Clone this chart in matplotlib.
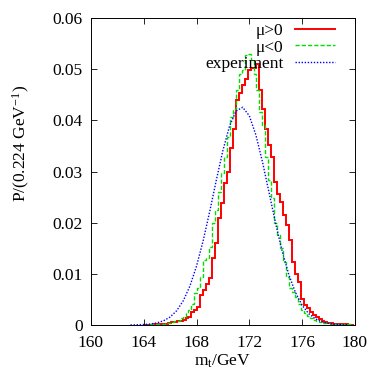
import matplotlib
matplotlib.use("Agg")
import matplotlib.pyplot as plt
import numpy as np

# bin edges: 0.224 GeV wide bins
bin_start = 164.032
bin_width = 0.224

mu_pos = [0, 0, 0, 0.0001, 0.0001, 0.0001, 0.0002, 0.0002, 0.0003, 0.0005,
          0.0006, 0.0007, 0.0008, 0.0010, 0.0013, 0.0016, 0.0026, 0.0029, 0.0036, 0.0059,
          0.0068, 0.0080, 0.0091, 0.0130, 0.0160, 0.0209, 0.0238, 0.0277, 0.0300, 0.0345,
          0.0384, 0.0440, 0.0453, 0.0470, 0.0480, 0.0498, 0.0502, 0.0503, 0.0510, 0.0460,
          0.0423, 0.0384, 0.0352, 0.0329, 0.0280, 0.0257, 0.0240, 0.0215, 0.0195, 0.0166,
          0.0124, 0.0100, 0.0085, 0.0050, 0.0040, 0.0033, 0.0025, 0.0020, 0.0015, 0.0011,
          0.0008, 0.0006, 0.0004, 0.0003, 0.0002, 0.0002, 0.0001, 0.0001, 0.0001, 0, 0]

mu_neg = [0, 0, 0.0001, 0.0001, 0.0001, 0.0002, 0.0002, 0.0003, 0.0004, 0.0006,
          0.0007, 0.0008, 0.0013, 0.0015, 0.0023, 0.0029, 0.0042, 0.0062, 0.0072, 0.0094,
          0.0127, 0.0130, 0.0153, 0.0199, 0.0225, 0.0260, 0.0297, 0.0329, 0.0368, 0.0407,
          0.0423, 0.0460, 0.0490, 0.0498, 0.0527, 0.0530, 0.0518, 0.0490, 0.0460, 0.0416,
          0.0390, 0.0329, 0.0283, 0.0248, 0.0199, 0.0176, 0.0150, 0.0124, 0.0094, 0.0072,
          0.0065, 0.0055, 0.0042, 0.0030, 0.0023, 0.0018, 0.0013, 0.0010, 0.0008, 0.0006,
          0.0004, 0.0003, 0.0003, 0.0002, 0.0002, 0.0001, 0.0001, 0.0002, 0.0001, 0.0001, 0]

# experimental curve, read every 0.5 GeV
exp_x = [163.0, 163.5, 164.0, 164.5, 165.0, 165.5, 166.0, 166.5, 167.0, 167.5,
         168.0, 168.5, 169.0, 169.5, 170.0, 170.5, 171.0, 171.5, 172.0, 172.5,
         173.0, 173.5, 174.0, 174.5, 175.0, 175.5, 176.0, 176.5, 177.0, 177.5,
         178.0, 178.5, 179.0, 179.5]
exp_y = [0.00001, 0.00004, 0.00009, 0.00019, 0.00041, 0.00082, 0.00156, 0.0028, 0.00475, 0.0076,
         0.01149, 0.01642, 0.02217, 0.02829, 0.03411, 0.03886, 0.04183, 0.04255, 0.0409, 0.03714,
         0.03187, 0.02584, 0.0198, 0.01433, 0.0098, 0.00634, 0.00387, 0.00223, 0.00122, 0.00063,
         0.00031, 0.00014, 0.00006, 0.00003]

labels = ["μ>0", "μ<0", "experiment"]

plt.rcParams['font.family'] = ['Liberation Serif', 'DejaVu Serif']
plt.rcParams['mathtext.fontset'] = 'custom'
plt.rcParams['mathtext.rm'] = 'Liberation Serif'
plt.rcParams['mathtext.it'] = 'Liberation Serif:italic'
plt.rcParams['font.size'] = 12.5

edges = bin_start + bin_width * np.arange(len(mu_pos) + 1)

fig = plt.figure(figsize=(3.82, 3.73), dpi=100)
ax = fig.add_axes([0.238, 0.1287, 0.691, 0.823])

ax.stairs(mu_pos, edges, color='red', lw=1.4, label=labels[0])
ax.stairs(mu_neg, edges, color='#00dd00', lw=1.0, ls=(0, (3, 1.5)), label=labels[1])
ax.plot(exp_x, exp_y, color='blue', lw=1.0, ls=(0, (1, 1.2)), label=labels[2])

ax.set_xlim(160, 180)
ax.set_ylim(0, 0.06)
ax.set_xticks(np.arange(160, 181, 4))
ax.set_yticks(np.arange(0, 0.061, 0.01))
ax.set_yticklabels(['0', '0.01', '0.02', '0.03', '0.04', '0.05', '0.06'])
ax.tick_params(direction='in', top=True, right=True, length=4, width=0.6)
ax.tick_params(axis='x', pad=7)
ax.tick_params(axis='y', pad=6)
for s in ax.spines.values():
    s.set_linewidth(0.7)

ax.set_xlabel(r'm$_\mathrm{t}$/GeV')
ax.xaxis.set_label_coords(0.5, -0.09)
ax.set_ylabel(r'P/(0.224 GeV$^{\mathrm{-1}}$)')
ax.yaxis.set_label_coords(-0.225, 0.59)

ax.legend(loc='upper right', bbox_to_anchor=(0.926, 0.983), frameon=False, markerfirst=False,
          handlelength=2.3, labelspacing=0.0, handletextpad=0.7, borderpad=0,
          borderaxespad=0, fontsize=12.5)

fig.savefig('out.png', dpi=100)
